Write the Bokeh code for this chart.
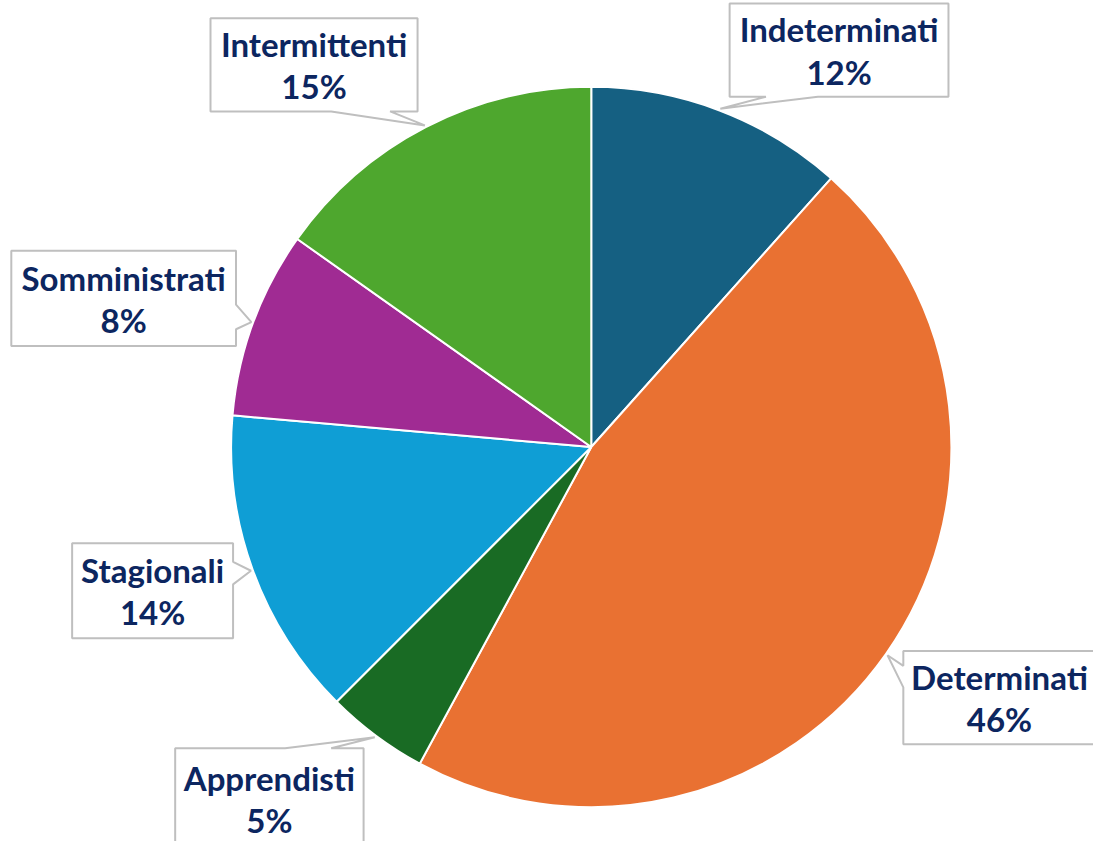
import math
from bokeh.plotting import figure
from bokeh.models import Range1d, ColumnDataSource
from bokeh.core.properties import value
from bokeh.embed import file_html
from bokeh.resources import INLINE

# ---- data ----
categories = ["Indeterminati", "Determinati", "Apprendisti", "Stagionali", "Somministrati", "Intermittenti"]
shares = [11.6, 46.3, 4.6, 13.9, 8.4, 15.2]
colors = ["#156082", "#E97132", "#196B24", "#0F9ED5", "#A02B93", "#4EA72E"]

# ---- layout (reference pixel coordinates) ----
CX, CY, R = 602, 455, 367
# box: left, top, right, bottom ; pointer side ; pointer base start/end along side
boxes = {
    "Indeterminati": ((743, 3, 966, 98), "bottom", (780, 833)),
    "Determinati": ((920, 663, 1120, 758), "left", (678, 700)),
    "Apprendisti": ((178, 762, 370, 864), "top", (290, 337)),
    "Stagionali": ((73, 553, 237, 650), "right", (572, 595)),
    "Somministrati": ((11, 255, 240, 352), "right", (310, 335)),
    "Intermittenti": ((214, 18, 425, 113), "bottom", (337, 397)),
}

W, H = 1093, 841
REF_H = 857
XMAX = W * REF_H / H
p = figure(width=W, height=H, output_backend="svg", toolbar_location=None,
           x_range=Range1d(0, XMAX), y_range=Range1d(-REF_H, 0),
           min_border=0)
p.axis.visible = False
p.grid.visible = False
p.outline_line_color = None
p.background_fill_color = "white"

total = sum(shares)
starts, ends, mids = [], [], []
cum = 0.0
for s in shares:
    a0 = math.pi / 2 - 2 * math.pi * cum / total
    cum += s
    a1 = math.pi / 2 - 2 * math.pi * cum / total
    starts.append(a0)
    ends.append(a1)
    mids.append((a0 + a1) / 2)

src = ColumnDataSource(dict(start=starts, end=ends, color=colors))
p.wedge(x=CX, y=-CY, radius=R, start_angle="start", end_angle="end",
        direction="clock", fill_color="color", line_color="white", line_width=2,
        source=src)

xs, ys, tx, ty1, ty2, names, pcts = [], [], [], [], [], [], []
for cat, s, m in zip(categories, shares, mids):
    (l, t, r, b), side, (u0, u1) = boxes[cat]
    tipx = CX + (R + 2) * math.cos(m)
    tipy = CY - (R + 2) * math.sin(m)
    if side == "bottom":
        pts = [(l, t), (r, t), (r, b), (u1, b), (tipx, tipy), (u0, b), (l, b)]
    elif side == "top":
        pts = [(l, t), (u0, t), (tipx, tipy), (u1, t), (r, t), (r, b), (l, b)]
    elif side == "right":
        pts = [(l, t), (r, t), (r, u0), (tipx, tipy), (r, u1), (r, b), (l, b)]
    else:
        pts = [(l, t), (r, t), (r, b), (l, b), (l, u1), (tipx, tipy), (l, u0)]
    xs.append([q[0] for q in pts])
    ys.append([-q[1] for q in pts])
    cxb = (l + r) / 2
    cyb = (t + b) / 2
    if cat == "Determinati":
        cxb -= 2
    tx.append(cxb)
    ty1.append(-(cyb - 21))
    ty2.append(-(cyb + 22))
    names.append(cat)
    pcts.append(f"{round(s)}%")

p.patches(xs=xs, ys=ys, fill_color="white", line_color="#BFBFBF", line_width=2)

font = value("Lato")
p.text(x=tx, y=ty1, text=names, text_font=font, text_font_style="bold",
       text_font_size="33px", text_color="#0C2660", text_align="center",
       text_baseline="middle")
p.text(x=tx, y=ty2, text=pcts, text_font=font, text_font_style="bold",
       text_font_size="33px", text_color="#0C2660", text_align="center",
       text_baseline="middle")

open("out.html", "w").write(file_html(p, INLINE))
